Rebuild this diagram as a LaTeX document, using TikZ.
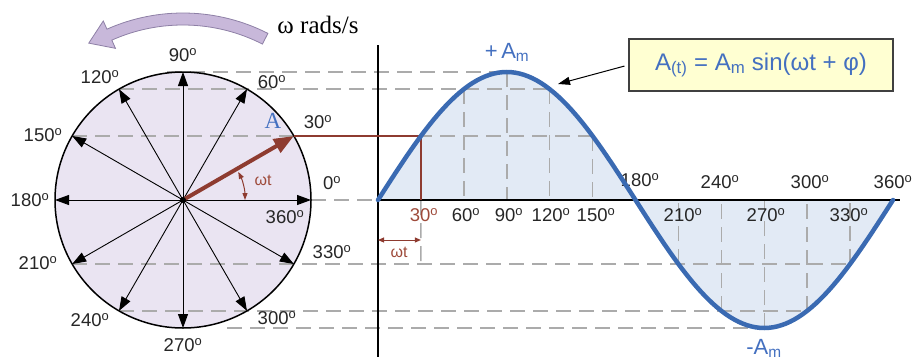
\documentclass[tikz,border=0pt]{standalone}
\usepackage{fontspec}
\setmainfont{Liberation Sans}
\newfontfamily\serifA{Liberation Serif}
\usetikzlibrary{arrows.meta}
\definecolor{brn}{HTML}{8E3B30}
\definecolor{brnlbl}{HTML}{9E4A3A}
\definecolor{curveblue}{HTML}{3A6AB2}
\definecolor{lblblue}{HTML}{4470C0}
\definecolor{sinefill}{HTML}{E2EAF5}
\definecolor{circfill}{HTML}{EAE4F2}
\definecolor{dgray}{HTML}{ABABAB}
\definecolor{arrowfill}{HTML}{C8B8DA}
\definecolor{arrowedge}{HTML}{8E80A6}
\definecolor{boxfill}{HTML}{FFFFD2}
\newcommand{\dg}{\textsuperscript{o}}
\begin{document}
\begin{tikzpicture}[x=1pt,y=1pt,
  dsh/.style={draw=dgray, line width=1.5pt, dash pattern=on 15pt off 8pt},
  spoke/.style={line width=0.9pt, -{Triangle[length=14pt,width=10pt]}},
  lbl/.style={font=\fontsize{18.5}{18.5}\selectfont, text=black!85, inner sep=0pt},
  blbl/.style={font=\fontsize{22}{22}\selectfont, text=lblblue, inner sep=0pt},
  wlbl/.style={font=\fontsize{16}{16}\selectfont, text=brnlbl, inner sep=0pt},
]
\useasboundingbox (0,0) rectangle (917,360);
% coordinates
\coordinate (O) at (183,160);
\coordinate (Z) at (378,160);
\foreach \a in {0,30,...,330}{
  \coordinate (P\a) at ({183+128*cos(\a)},{160+128*sin(\a)});
}
\foreach \a in {0,30,...,360}{
  \coordinate (S\a) at ({378+1.430556*\a},{160+128*sin(\a)});
}
\coordinate (L90) at (167,288);
\coordinate (L270) at (227,32);
\coordinate (D30) at (420.9,98);
\coordinate (W1) at (378,120);
\coordinate (W2) at (420.9,120);
\coordinate (Xend) at (900,160);
\coordinate (Ytop) at (378,315);
\coordinate (Ybot) at (378,3);
\coordinate (Peak) at (558,276);

% rotation arrow
\begin{scope}[shift={(183,160)}]
\filldraw[fill=arrowfill, draw=arrowedge, line width=0.8pt]
  (63:187) arc[start angle=63,end angle=114,radius=187] -- (114:196) -- (121:183)
  -- (114:166) -- (114:175) arc[start angle=114,end angle=63,radius=175] -- cycle;
\end{scope}
\node[font=\serifA\fontsize{25}{25}\selectfont, inner sep=0pt] (rads) at (318,335) {ω rads/s};

% fills
\fill[circfill] (O) circle (128);
\fill[sinefill] (Z) -- plot[domain=0:360, samples=121] ({378+1.430556*\x},{160+128*sin(\x)}) -- cycle;

% dashed guides
\draw[dsh] (L90) -- (S90);
\draw[dsh] (P120) -- (S120);
\draw[dsh] (P150) -- (S150);
\draw[dsh] (P0) -- (Z);
\draw[dsh] (P210) -- (S330);
\draw[dsh] (P240) -- (S300);
\draw[dsh] (L270) -- (S270);
\foreach \a in {60,90,120,150,210,240,270,300,330}{
  \draw[dsh] (S\a) -- (S\a |- Z);
}
\draw[dsh] (S30 |- Z) -- (D30);

% circle
\draw[line width=1.5pt] (O) circle (128);
\foreach \a in {0,60,90,120,150,180,210,240,270,300,330}{
  \draw[spoke] (O) -- (P\a);
}
\draw[brn, line width=4pt, -{Triangle[length=20pt,width=15pt]}] (O) -- (P30);
\fill (O) circle (3);
\draw[brn, line width=1pt, {Triangle[length=7pt,width=5pt]}-{Triangle[length=7pt,width=5pt]}]
  (245,160) arc[start angle=0,end angle=27,radius=62];
\node[wlbl] (wt1) at (263,180) {ωt};

% axes
\draw[line width=1.8pt] (Ytop) -- (Ybot);
\draw[line width=1.8pt] (Z) -- (Xend);

% brown projection
\draw[brn, line width=1.3pt] (P30) -- (S30) -- (S30 |- Z);
\draw[brn, line width=1pt, {Triangle[length=6pt,width=5pt]}-{Triangle[length=6pt,width=5pt]}] (W1) -- (W2);
\node[wlbl] (wt2) at (399,108) {ωt};

% circle labels
\node[lbl] (c90) at (183,305) {90\dg};
\node[lbl] (c120) at (100,283) {120\dg};
\node[lbl] (c60) at (272,278) {60\dg};
\node[lbl] (c30) at (318,238) {30\dg};
\node[font=\serifA\fontsize{23}{23}\selectfont, text=lblblue, inner sep=0pt] (cA) at (273,239) {A};
\node[lbl] (c150) at (43,225) {150\dg};
\node[lbl] (c180) at (30,160) {180\dg};
\node[lbl] (c0) at (332,177) {0\dg};
\node[lbl] (c360) at (285,143) {360\dg};
\node[lbl] (c330) at (332,108) {330\dg};
\node[lbl] (c210) at (38,97) {210\dg};
\node[lbl] (c240) at (90,40) {240\dg};
\node[lbl] (c300) at (277,42) {300\dg};
\node[lbl] (c270) at (183,15) {270\dg};

% axis labels
\node[lbl, text=brnlbl] (a30) at (424,145) {30\dg};
\node[lbl] (a60) at (466,145) {60\dg};
\node[lbl] (a90) at (509,145) {90\dg};
\node[lbl] (a120) at (551,145) {120\dg};
\node[lbl] (a150) at (596,145) {150\dg};
\node[lbl] (a180) at (640,180) {180\dg};
\node[lbl] (a240) at (720,178) {240\dg};
\node[lbl] (a300) at (810,178) {300\dg};
\node[lbl] (a360) at (893,178) {360\dg};
\node[lbl] (a210) at (683,145) {210\dg};
\node[lbl] (a270) at (766,145) {270\dg};
\node[lbl] (a330) at (849,145) {330\dg};

% sine curve
\draw[curveblue, line width=4.5pt, line cap=round] plot[domain=0:360, samples=121] ({378+1.430556*\x},{160+128*sin(\x)});

\node[blbl] (amp) at (507,308) {+\,A\textsubscript{m}};
\node[blbl] (amn) at (764,12) {-A\textsubscript{m}};

% formula
\node[draw=black!75, line width=1.3pt, fill=boxfill, minimum width=264pt, minimum height=52pt,
  font=\fontsize{24}{24}\selectfont, text=lblblue, inner sep=0pt] (box) at (761,295)
  {A\textsubscript{(t)} = A\textsubscript{m} sin(ωt + φ)};
\draw[line width=1pt, -{Triangle[length=12pt,width=8pt]}, shorten <=4pt] (box.west) -- (Peak);
\end{tikzpicture}
\end{document}
